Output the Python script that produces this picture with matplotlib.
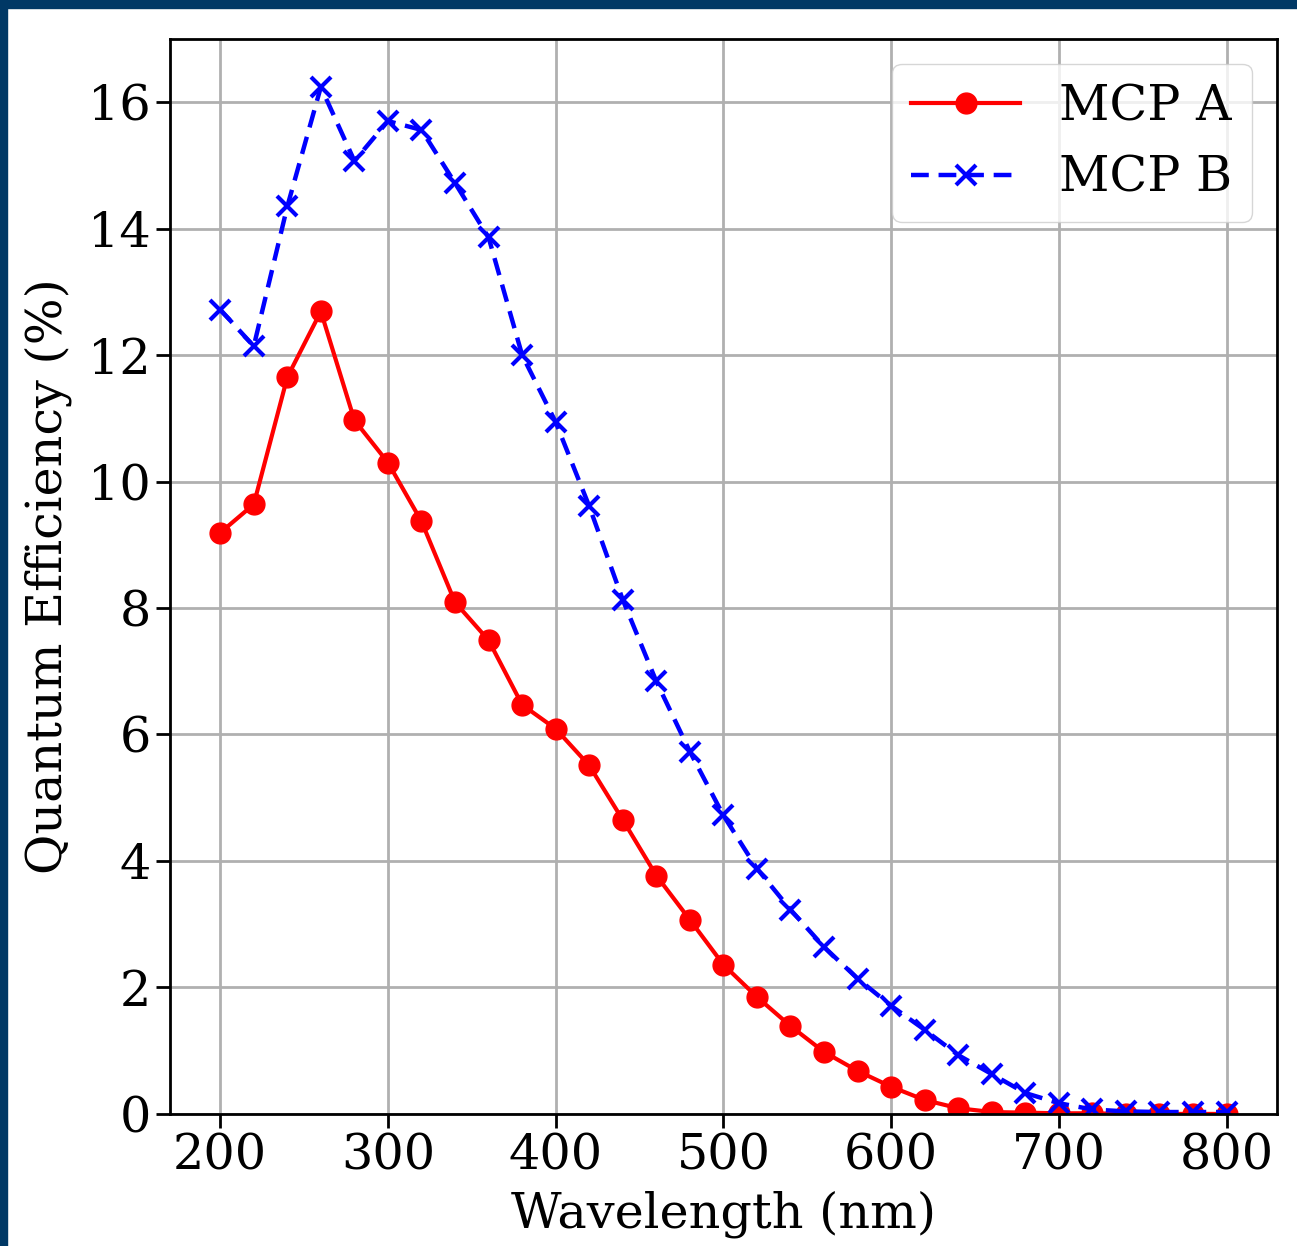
import matplotlib.pyplot as plt
from matplotlib.patches import Rectangle

# %% Data
wavelength = [200, 220, 240, 260, 280, 300, 320, 340, 360, 380, 400,
              420, 440, 460, 480, 500, 520, 540, 560, 580, 600,
              620, 640, 660, 680, 700, 720, 740, 760, 780, 800]

qe_mcp_a = [9.19, 9.64, 11.65, 12.69, 10.97, 10.30, 9.37, 8.09, 7.49, 6.47, 6.09,
            5.51, 4.65, 3.77, 3.07, 2.36, 1.85, 1.39, 0.98, 0.68, 0.43,
            0.22, 0.09, 0.03, 0.02, 0.01, 0.01, 0.0, 0.0, 0.0, 0.0]

qe_mcp_b = [12.72, 12.14, 14.35, 16.24, 15.07, 15.70, 15.56, 14.72, 13.86, 12.00, 10.94,
            9.61, 8.13, 6.84, 5.73, 4.72, 3.88, 3.23, 2.64, 2.14, 1.71,
            1.33, 0.93, 0.63, 0.33, 0.17, 0.07, 0.04, 0.03, 0.03, 0.03]

# %% Plot
plt.rcParams["font.family"] = "DejaVu Serif"
plt.rcParams["font.size"] = 35.5

fig = plt.figure(figsize=(12.97, 12.46), dpi=100)
ax = fig.add_axes([0.131, 0.106, 0.8535, 0.8628])

ax.plot(wavelength, qe_mcp_a, "-o", color="red", linewidth=3, markersize=15,
        label="MCP A")
ax.plot(wavelength, qe_mcp_b, "--x", color="blue", linewidth=3.2, markersize=15,
        markeredgewidth=3, dashes=(4, 2.2), label="MCP B")

ax.set_ylim(0, 17)
ax.set_xticks([200, 300, 400, 500, 600, 700, 800])
ax.set_yticks(range(0, 17, 2))
ax.set_xlabel("Wavelength (nm)", labelpad=8)
ax.set_ylabel("Quantum Efficiency (%)", labelpad=12)
ax.grid(True, color="#b0b0b0", linewidth=2)
ax.tick_params(length=10, width=2)
for spine in ax.spines.values():
    spine.set_linewidth(2)

ax.legend(loc="upper right", handlelength=2.2)

# dark frame strips seen on the left and top edges
fig.patches.append(Rectangle((0, 0), 7 / 1297, 1, transform=fig.transFigure,
                             color="#003865", zorder=10))
fig.patches.append(Rectangle((0, 1 - 8 / 1246), 1, 8 / 1246,
                             transform=fig.transFigure, color="#003865", zorder=10))

fig.savefig("out.png", dpi=100)
